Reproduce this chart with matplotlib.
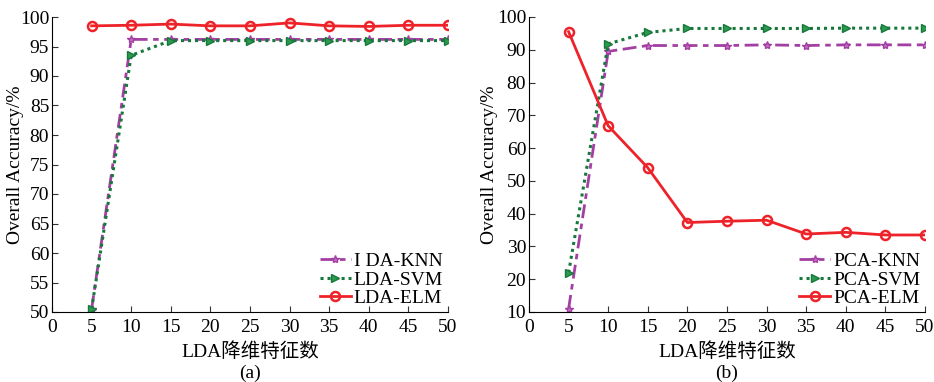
import matplotlib
matplotlib.use("Agg")
import matplotlib.pyplot as plt

plt.rcParams['font.family'] = ['Liberation Serif', 'Noto Sans CJK SC']
plt.rcParams['mathtext.fontset'] = 'stix'

x = [5, 10, 15, 20, 25, 30, 35, 40, 45, 50]

lda_knn = [50.5, 96.2, 96.2, 96.2, 96.2, 96.2, 96.2, 96.2, 96.2, 96.2]
lda_svm = [50.5, 93.5, 96.0, 96.0, 96.0, 96.0, 96.0, 96.0, 96.0, 96.0]
lda_elm = [98.5, 98.6, 98.8, 98.5, 98.5, 99.0, 98.5, 98.4, 98.6, 98.6]

pca_knn = [11.0, 89.5, 91.3, 91.3, 91.3, 91.5, 91.3, 91.5, 91.5, 91.5]
pca_svm = [22.0, 91.8, 95.3, 96.5, 96.5, 96.5, 96.5, 96.6, 96.6, 96.6]
pca_elm = [95.5, 66.8, 54.0, 37.3, 37.7, 38.0, 33.8, 34.3, 33.5, 33.5]

labels_a = ['I DA-KNN', 'LDA-SVM', 'LDA-ELM']
labels_b = ['PCA-KNN', 'PCA-SVM', 'PCA-ELM']
xlabel = 'LDA降维特征数'
ylabel = 'Overall Accuracy/%'

purple = '#A33FA3'
green = '#16783A'
red = '#EE2229'

W, H = 934, 382
fig = plt.figure(figsize=(W / 100, H / 100), dpi=100)
ax1 = fig.add_axes([52 / W, 1 - 312 / H, 396 / W, 295 / H])
ax2 = fig.add_axes([529 / W, 1 - 312 / H, 396 / W, 295 / H])

def draw(ax, knn, svm, elm, labels, ylim, yticks, tag, ylx):
    ax.plot(x, knn, color=purple, linestyle=(0, (5, 2, 2, 2)), linewidth=2,
            marker='*', markersize=6, markerfacecolor='#C070C0', markeredgecolor=purple, label=labels[0])
    ax.plot(x, svm, color=green, linestyle=(0, (1, 1.3)), linewidth=2.2,
            marker='>', markersize=6, markerfacecolor='#2E9A50', markeredgecolor=green, label=labels[1])
    ax.plot(x, elm, color=red, linestyle='-', linewidth=2,
            marker='o', markersize=6.5, markerfacecolor='none', markeredgecolor=red, markeredgewidth=1.8, label=labels[2])
    ax.set_xlim(0, 50)
    ax.set_ylim(*ylim)
    ax.set_xticks(range(0, 51, 5))
    ax.set_yticks(yticks)
    ax.tick_params(direction='in', labelsize=14, length=4, color='#333333')
    ax.tick_params(axis='x', pad=5)
    ax.tick_params(axis='y', pad=2)
    for s in ['top', 'right']:
        ax.spines[s].set_visible(False)
    for s in ['left', 'bottom']:
        ax.spines[s].set_linewidth(0.8)
    ax.text(0.5, (312 - 352) / 295, xlabel, transform=ax.transAxes, ha='center', va='center', fontsize=14)
    ax.text(ylx, 0.5, ylabel, transform=ax.transAxes, ha='center', va='center', rotation=90, fontsize=14)
    ax.text(0.5, (312 - 373) / 295, tag, transform=ax.transAxes, ha='center', va='center', fontsize=14)
    ax.legend(loc='lower right', frameon=False, fontsize=14, handlelength=1.6,
              handletextpad=0.15, labelspacing=0.05, borderaxespad=0.15, borderpad=0.1)

draw(ax1, lda_knn, lda_svm, lda_elm, labels_a, (50, 100), range(50, 101, 5), '(a)', (16 - 52) / 396)
draw(ax2, pca_knn, pca_svm, pca_elm, labels_b, (10, 100), range(10, 101, 10), '(b)', (490 - 529) / 396)

fig.savefig('out.png', dpi=100)
